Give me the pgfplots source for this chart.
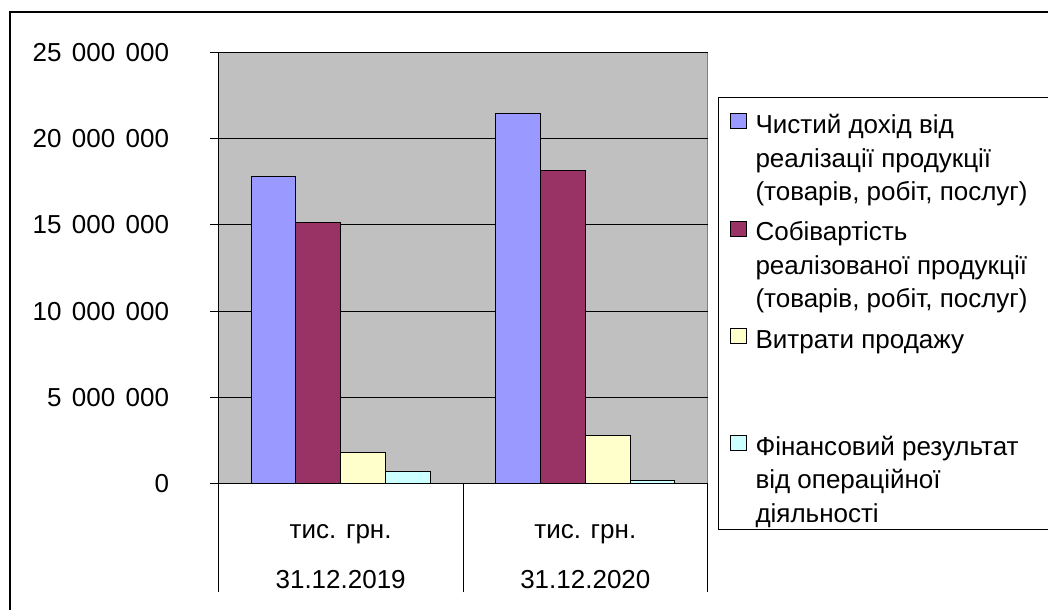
\documentclass[border=0pt]{standalone}
\usepackage{fontspec}
\setmainfont{Liberation Sans}
\usepackage{pgfplots}
\pgfplotsset{compat=1.18}

\definecolor{barblue}{HTML}{9999FF}
\definecolor{barplum}{HTML}{993366}
\definecolor{barcream}{HTML}{FFFFCC}
\definecolor{barice}{HTML}{CCFFFF}
\definecolor{plotgray}{HTML}{C0C0C0}
\definecolor{framegray}{HTML}{808080}

\newcommand{\chartfont}{\fontsize{26bp}{33.5bp}\selectfont}
% one legend row: strut height, strut depth, text
\newcommand{\lrow}[3]{\rule[-#2]{0pt}{\dimexpr#1+#2\relax}#3}

\pgfplotsset{
    legsquare/.style={legend image code/.code={\draw[##1, line width=1bp] (0bp,-2.05bp) rectangle (16bp,12.95bp);}},
    legsquaretop/.style={legend image code/.code={\draw[##1, line width=1bp] (0bp,-4.8bp) rectangle (16bp,10.2bp);}},
}

\begin{document}
\begin{tikzpicture}
\useasboundingbox (0bp,0bp) rectangle (1048bp,-610bp);
\draw[line width=1.5bp] (10bp,-12bp) rectangle (1080bp,-650bp);
\begin{axis}[
    at={(218.3bp,-483.3bp)}, anchor=south west,
    scale only axis, width=489.4bp, height=430.6bp,
    xmin=-0.5, xmax=1.5, ymin=0, ymax=25000000,
    ybar=0pt, bar width=0.1827,
    axis lines*=left,
    axis line style={black, line width=1bp},
    axis background/.style={fill=plotgray, draw=framegray, line width=1bp},
    tick align=outside,
    ytick={0,5000000,10000000,15000000,20000000,25000000},
    major tick length=8bp,
    major y tick style={black, line width=1bp},
    ymajorgrids, grid style={black, line width=1bp},
    scaled y ticks=false,
    /pgf/number format/.cd, fixed, precision=0, 1000 sep={\hspace{0.4em}}, assume math mode=true,
    /pgfplots/.cd,
    xtick={0,1},
    major x tick style={draw=none},
    minor xtick={-0.5,0.5,1.5},
    minor tick length=109bp,
    minor x tick style={black, line width=1bp},
    xticklabels={{\strut тис. грн.\\[16bp]31.12.2019},{\strut тис. грн.\\[16bp]31.12.2020}},
    ticklabel style={font=\chartfont, inner sep=0pt},
    xticklabel style={align=center, anchor=north, yshift=-24bp},
    yticklabel style={anchor=east, xshift=-41bp},
    legend cell align=left,
    legend style={at={(1.0211,0.8971)}, anchor=north west, draw=black, line width=1bp, fill=white,
        inner xsep=11bp, inner ysep=7bp, column sep=9bp, row sep=0pt,
        font=\chartfont, nodes={inner sep=0pt, text depth=, text height=}},
]
\addplot[draw=black, line width=1bp, fill=barblue, legsquaretop]
    coordinates {(0,17800000) (1,21450000)};
\addlegendentry{\lrow{29bp}{10bp}{Чистий дохід від}}
\addlegendimage{empty legend}
\addlegendentry{\lrow{23.5bp}{10bp}{реалізації продукції}}
\addlegendimage{empty legend}
\addlegendentry{\lrow{23.5bp}{16.8bp}{(товарів, робіт, послуг)\rule{50bp}{0pt}}}
\addplot[draw=black, line width=1bp, fill=barplum, legsquare]
    coordinates {(0,15160000) (1,18190000)};
\addlegendentry{\lrow{23.5bp}{10bp}{Собівартість}}
\addlegendimage{empty legend}
\addlegendentry{\lrow{23.5bp}{10bp}{реалізованої продукції}}
\addlegendimage{empty legend}
\addlegendentry{\lrow{23.5bp}{16.8bp}{(товарів, робіт, послуг)}}
\addplot[draw=black, line width=1bp, fill=barcream, legsquare]
    coordinates {(0,1780000) (1,2790000)};
\addlegendentry{\lrow{23.5bp}{10bp}{Витрати продажу}}
\addlegendimage{empty legend}
\addlegendentry{\lrow{23.5bp}{10bp}{}}
\addlegendimage{empty legend}
\addlegendentry{\lrow{23.5bp}{16.8bp}{}}
\addplot[draw=black, line width=1bp, fill=barice, legsquare]
    coordinates {(0,660000) (1,190000)};
\addlegendentry{\lrow{23.5bp}{10bp}{Фінансовий результат}}
\addlegendimage{empty legend}
\addlegendentry{\lrow{23.5bp}{10bp}{від операційної}}
\addlegendimage{empty legend}
\addlegendentry{\lrow{23.5bp}{0bp}{\smash{діяльності}}}
\end{axis}
\end{tikzpicture}
\end{document}
